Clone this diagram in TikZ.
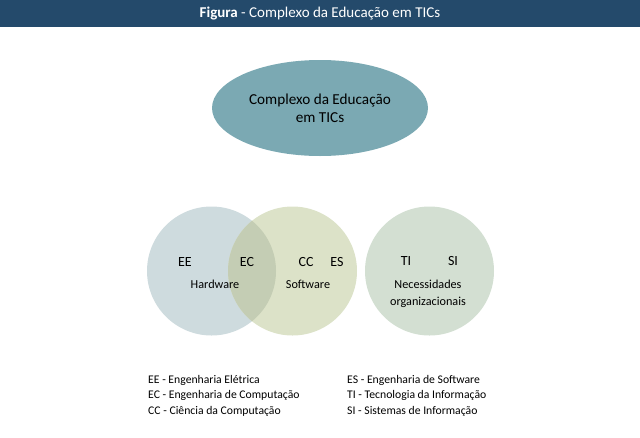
\documentclass[tikz,border=0pt]{standalone}
\usepackage{fontspec}
\setmainfont{Carlito}
\usepackage{tikz}
\usetikzlibrary{positioning,shapes.geometric}

\definecolor{barblue}{HTML}{244A6B}
\definecolor{ovalteal}{HTML}{7BA9B3}
\definecolor{hwblue}{HTML}{CEDBDE}
\definecolor{swolive}{HTML}{DCE2C8}
\definecolor{bothmix}{HTML}{C4CDB4}
\definecolor{orggreen}{HTML}{D3DFD2}

\tikzset{
  area/.style={circle,minimum size=129pt,inner sep=0pt},
  abbr/.style={font=\fontsize{14}{16}\selectfont},
  field/.style={font=\fontsize{12.2}{14}\selectfont,align=center},
  legend/.style={font=\fontsize{11.7}{15.5}\selectfont,anchor=base west,
    inner sep=0pt,align=left}
}

\begin{document}
\begin{tikzpicture}[x=1pt,y=-1pt]
            \useasboundingbox (0,0) rectangle (640,437);
            \fill[barblue] (0,0) rectangle (640,27);
            \node[white,font=\fontsize{15}{16}\selectfont] (title) at (320,14)
            {\textbf{Figura} - Complexo da Educação em TICs};
            % oval on top
            \node[ellipse,fill=ovalteal,minimum width=216pt,minimum height=96pt,
            align=center,font=\fontsize{15.2}{18}\selectfont] (tics) at (320,108)
            {Complexo da Educação\\em TICs};
            % the three areas
            \node[area,fill=hwblue] (hw) at (211.5,271) {};
            \node[area,fill=swolive] (sw) at (292.5,271) {};
            \begin{scope}
            \clip (211.5,271) circle (64.5);
            \fill[bothmix] (292.5,271) circle (64.5);
            \end{scope}
            \node[area,fill=orggreen] (org) at (429.5,271) {};
            \node[abbr] (ee) at (185,262) {EE};
            \node[abbr] (ec) at (247,262) {EC};
            \node[abbr] (cc) at (306,262) {CC};
            \node[abbr] (es) at (337,262) {ES};
            \node[abbr] (ti) at (406,261) {TI};
            \node[abbr] (si) at (453,261) {SI};
            \node[field] (hwtxt) at (215,284) {Hardware};
            \node[field] (swtxt) at (308,284) {Software};
            \node[field,font=\fontsize{12.2}{17}\selectfont] (orgtxt) at (428,294)
            {Necessidades\\organizacionais};
            % legend (base = last line)
            \node[legend] (leftkey) at (148,414)
            {EE - Engenharia Elétrica\\EC - Engenharia de Computação\\CC - Ciência da Computação};
            \node[legend] (rightkey) at (347,414)
            {ES - Engenharia de Software\\TI - Tecnologia da Informação\\SI - Sistemas de Informação};
        \end{tikzpicture}
\end{document}
